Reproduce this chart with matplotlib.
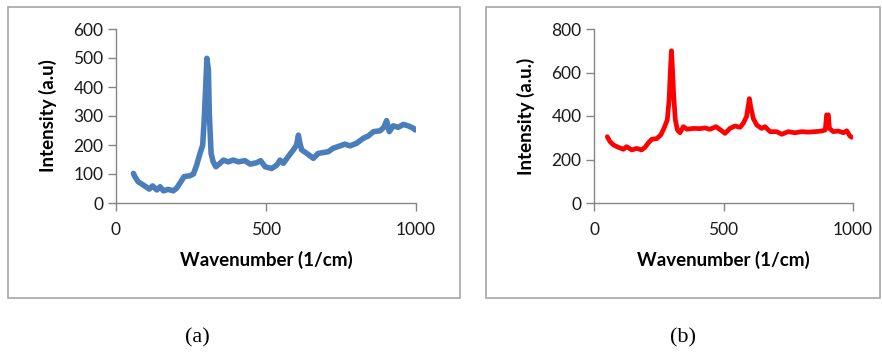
import matplotlib
matplotlib.use("Agg")
import matplotlib.pyplot as plt
from matplotlib.patches import Rectangle

# (a) blue spectrum
wn_a = [58, 63, 74, 91, 111, 122, 136, 147, 158, 174, 191, 202, 216, 227, 247, 258,
        269, 280, 289, 294, 299, 303, 308, 311, 317, 324, 333, 347, 358, 374, 391, 408,
        430, 447, 469, 482, 497, 519, 536, 547, 558, 574, 591, 602, 608, 613, 619, 636,
        658, 674, 691, 708, 724, 747, 763, 780, 802, 824, 841, 858, 880, 893, 902, 911,
        924, 941, 958, 974, 991, 997]
int_a = [102, 91, 73, 62, 48, 59, 45, 56, 42, 47, 42, 51, 73, 91, 94, 100,
         131, 171, 200, 286, 401, 499, 459, 309, 171, 142, 125, 137, 148, 142, 148, 142,
         146, 134, 139, 146, 125, 119, 131, 148, 137, 160, 183, 200, 234, 206, 183, 171,
         154, 171, 174, 177, 189, 197, 203, 197, 206, 223, 231, 246, 249, 261, 284, 246,
         266, 261, 271, 266, 258, 252]

# (b) red spectrum
wn_b = [51, 62, 75, 94, 113, 126, 146, 165, 184, 197, 210, 223, 242, 258, 270, 283,
        290, 295, 299, 302, 308, 314, 322, 332, 345, 360, 383, 409, 429, 448, 471, 493,
        506, 525, 544, 564, 576, 589, 600, 605, 615, 628, 647, 660, 680, 705, 725, 750,
        776, 802, 827, 853, 879, 893, 898, 905, 909, 924, 943, 963, 976, 988, 995]
int_b = [305, 282, 267, 256, 247, 259, 244, 251, 244, 256, 277, 293, 296, 313, 343, 382,
         474, 611, 700, 642, 489, 382, 336, 323, 351, 339, 343, 342, 345, 339, 351, 332,
         320, 343, 354, 348, 366, 397, 480, 443, 389, 359, 343, 351, 328, 328, 316, 328,
         323, 328, 326, 328, 331, 336, 405, 405, 343, 328, 331, 323, 332, 308, 302]

panels = [
    dict(x=wn_a, y=int_a, color="#4A7EBB", lw=4.0, ymax=600, yticks=[0, 100, 200, 300, 400, 500, 600],
         ylabel="Intensity (a.u)", rect=[116 / 882, 149 / 352, 300 / 882, 174 / 352], ylx=-0.227,
         box=(8, 7, 452, 291), cap="(a)", capx=197),
    dict(x=wn_b, y=int_b, color="#FF0000", lw=3.4, ymax=800, yticks=[0, 200, 400, 600, 800],
         ylabel="Intensity (a.u.)", rect=[594 / 882, 149 / 352, 259 / 882, 174 / 352], ylx=-0.263,
         box=(486, 7, 394, 291), cap="(b)", capx=683),
]

W, H = 882, 352
fig = plt.figure(figsize=(W / 100, H / 100), dpi=100)
fig.patch.set_facecolor("white")

for p in panels:
    bx, by, bw, bh = p["box"]
    fig.patches.append(Rectangle((bx / W, 1 - (by + bh) / H), bw / W, bh / H,
                                 transform=fig.transFigure, fill=False,
                                 edgecolor="#A6A6A6", linewidth=1.2))
    ax = fig.add_axes(p["rect"])
    ax.plot(p["x"], p["y"], color=p["color"], lw=p["lw"], solid_joinstyle="round",
            solid_capstyle="round")
    ax.set_xlim(0, 1000)
    ax.set_ylim(0, p["ymax"])
    ax.set_xticks([0, 500, 1000])
    ax.set_yticks(p["yticks"])
    ax.patch.set_alpha(0)
    for s in ("top", "right"):
        ax.spines[s].set_visible(False)
    for s in ("left", "bottom"):
        ax.spines[s].set_color("#868686")
        ax.spines[s].set_linewidth(1.0)
    ax.tick_params(direction="out", length=6, width=1.0, color="#868686",
                   labelsize=12.5, labelcolor="#1a1a1a", pad=3)
    for lab in ax.get_xticklabels() + ax.get_yticklabels():
        lab.set_family("Lato")
    ax.tick_params(axis="x", pad=8)
    ax.set_xlabel("Wavenumber (1/cm)", fontsize=13.5, fontweight="bold", family="Lato")
    ax.set_ylabel(p["ylabel"], fontsize=13.5, fontweight="bold", family="Lato")
    ax.xaxis.set_label_coords(0.5, -0.328)
    ax.xaxis.label.set_va("center")
    ax.yaxis.set_label_coords(p["ylx"], 0.5)
    ax.yaxis.label.set_va("center")
    fig.text(p["capx"] / W, 1 - 338 / H, p["cap"], ha="center", va="center",
             fontsize=16, family="Liberation Serif")

fig.savefig("out.png", dpi=100)
